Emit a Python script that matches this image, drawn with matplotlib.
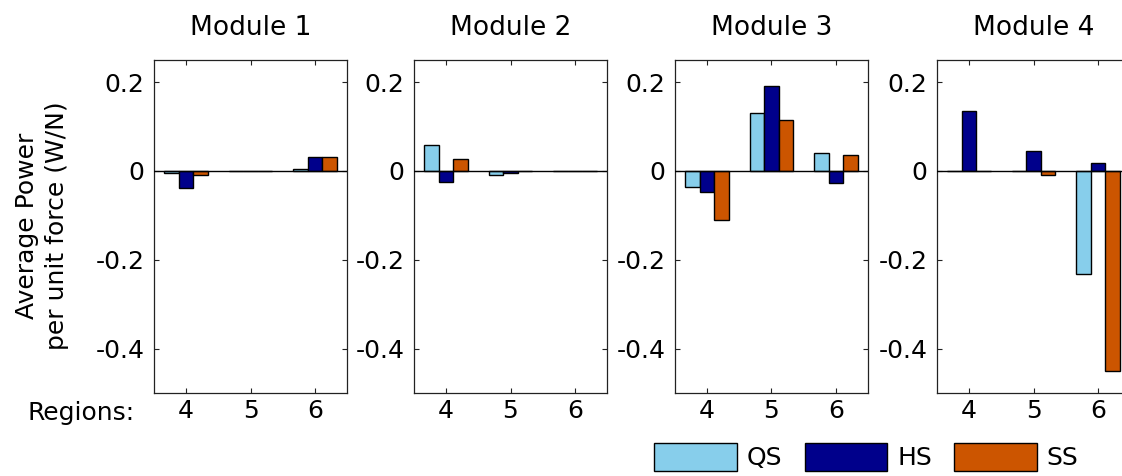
import matplotlib.pyplot as plt
import numpy as np

plt.rcParams['font.family'] = ['DejaVu Sans']
plt.rcParams['axes.unicode_minus'] = False

modules = ['Module 1', 'Module 2', 'Module 3', 'Module 4']
regions = [4, 5, 6]
series = ['QS', 'HS', 'SS']
colors = ['#87CEEB', '#00008B', '#CC5500']

# average power per unit force, one row per module, columns are regions 4, 5, 6
qs = [[-0.005, 0.0, 0.004],
      [0.059, -0.010, 0.0],
      [-0.036, 0.131, 0.041],
      [0.0, 0.0, -0.232]]
hs = [[-0.038, 0.0, 0.032],
      [-0.024, -0.004, 0.0],
      [-0.047, 0.192, -0.028],
      [0.136, 0.045, 0.018]]
ss = [[-0.010, 0.0, 0.032],
      [0.027, 0.0, 0.0],
      [-0.110, 0.114, 0.036],
      [0.0, -0.010, -0.450]]

W, H = 1122, 476
fig = plt.figure(figsize=(W / 100, H / 100), dpi=100)

lefts = [154, 414, 675, 937]
ax_w, ax_top, ax_bot = 193, 60, 393
width = 0.225
x = np.array(regions, dtype=float)

handles = []
for i, name in enumerate(modules):
    ax = fig.add_axes([lefts[i] / W, (H - ax_bot) / H, ax_w / W, (ax_bot - ax_top) / H])
    for j, vals in enumerate([qs[i], hs[i], ss[i]]):
        b = ax.bar(x + (j - 1) * width, vals, width, color=colors[j],
                   edgecolor='black', linewidth=1.0, label=series[j], zorder=2)
        if i == 0:
            handles.append(b)
    ax.axhline(0, color='black', linewidth=1.0, zorder=3)
    ax.set_xlim(3.5, 6.5)
    ax.set_ylim(-0.5, 0.25)
    ax.set_xticks(regions)
    ax.set_xticklabels([str(r) for r in regions])
    ax.set_yticks([-0.4, -0.2, 0, 0.2])
    ax.set_yticklabels(['-0.4', '-0.2', '0', '0.2'])
    ax.tick_params(direction='in', top=True, right=True, length=3.5, width=0.8,
                   labelsize=18, color='#222222')
    ax.tick_params(axis='x', pad=4)
    ax.tick_params(axis='y', pad=7)
    for s in ax.spines.values():
        s.set_linewidth(0.9)
        s.set_color('#222222')
    ax.set_title(name, fontsize=19, pad=18)

fig.text(42 / W, (H - 226) / H, 'Average Power\nper unit force (W/N)', rotation=90,
         ha='center', va='center', fontsize=18, linespacing=1.35)
fig.text(27 / W, (H - 413) / H, 'Regions:', ha='left', va='center', fontsize=18)

fig.legend(handles=handles, labels=series, loc='center left',
           bbox_to_anchor=(654 / W, 19 / H), ncol=3, frameon=False,
           fontsize=18, handlelength=3.3, handleheight=1.3, handletextpad=0.4,
           columnspacing=0.9, borderpad=0, borderaxespad=0)

fig.savefig('out.png', dpi=100)
